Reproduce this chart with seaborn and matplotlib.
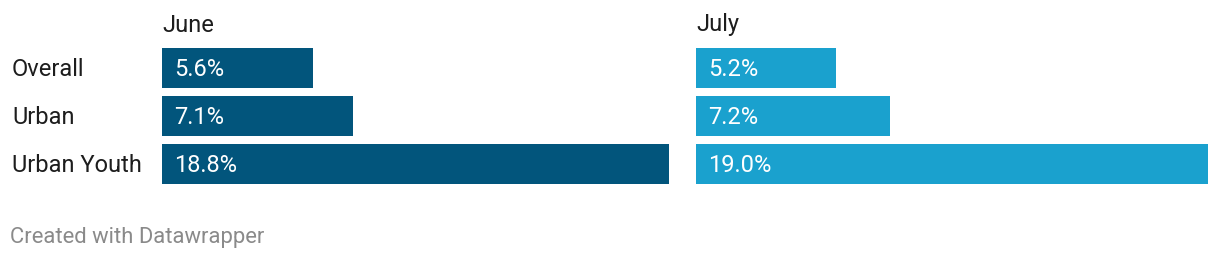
import matplotlib
matplotlib.use("Agg")
import matplotlib.pyplot as plt
import matplotlib.transforms as mtransforms
import seaborn as sns
import pandas as pd

categories = ["Overall", "Urban", "Urban Youth"]
june = [5.6, 7.1, 18.8]
july = [5.2, 7.2, 19.0]
panel_titles = ["June", "July"]
value_labels_june = ["5.6%", "7.1%", "18.8%"]
value_labels_july = ["5.2%", "7.2%", "19.0%"]
colors = ["#02557c", "#1aa1ce"]
footer = "Created with Datawrapper"

sns.set_theme(style="white")
plt.rcParams["font.family"] = ["Roboto", "DejaVu Sans"]

W, H = 1220, 260
fig = plt.figure(figsize=(W / 100, H / 100), dpi=100)
fig.patch.set_facecolor("white")

lefts = [162, 696]
axw = 512
top, bottom = 48, 184
series = [june, july]
labels = [value_labels_june, value_labels_july]
FS = 17

axes = []
for k in range(2):
    ax = fig.add_axes([lefts[k] / W, (H - bottom) / H, axw / W, (bottom - top) / H])
    df = pd.DataFrame({"cat": categories, "val": series[k]})
    sns.barplot(data=df, x="val", y="cat", orient="h", color=colors[k],
                width=40 / 48, ax=ax, saturation=1, linewidth=0, edgecolor="none")
    ax.set_xlim(0, 19.0)
    ax.set_ylim(2 + 0.5 * 40 / 48, -0.5 * 40 / 48)
    ax.axis("off")
    for i, lab in enumerate(labels[k]):
        ax.annotate(lab, xy=(0, i), xytext=(12, -1.5), textcoords="offset pixels",
                    ha="left", va="center", color="white", fontsize=FS)
    fig.text(lefts[k] / W, 1 - 25 / H, panel_titles[k], ha="left", va="center",
             fontsize=FS, color="#1d1d1d")
    axes.append(ax)

trans = mtransforms.blended_transform_factory(fig.transFigure, axes[0].transData)
for i, c in enumerate(categories):
    axes[0].annotate(c, xy=(12 / W, i), xycoords=trans, xytext=(0, -1.5),
                     textcoords="offset pixels", ha="left", va="center",
                     fontsize=FS, color="#1d1d1d")

fig.text(10 / W, 1 - 237 / H, footer, ha="left", va="center", fontsize=15.8,
         color="#8a8a8a")

fig.savefig("out.png", dpi=100, facecolor="white")
